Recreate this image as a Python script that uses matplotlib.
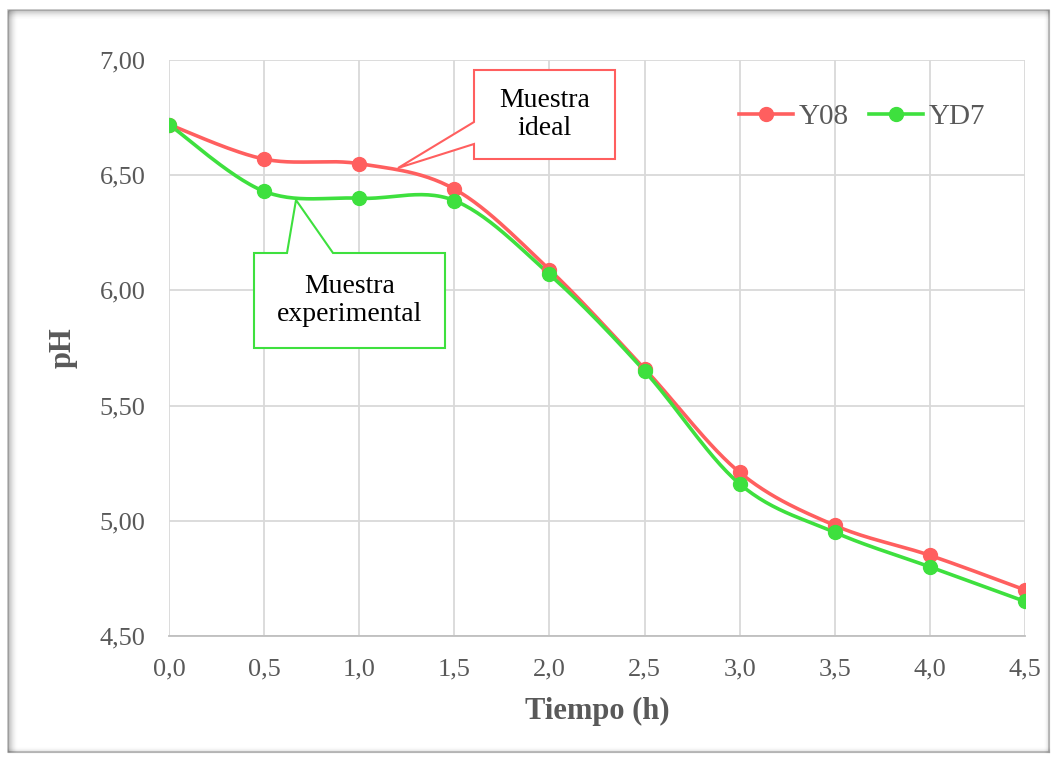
import numpy as np
import matplotlib
matplotlib.use("Agg")
import matplotlib.pyplot as plt
from matplotlib.patches import Polygon, Rectangle
from matplotlib.lines import Line2D

# ---- data ----
tiempo = [0.0, 0.5, 1.0, 1.5, 2.0, 2.5, 3.0, 3.5, 4.0, 4.5]
ph_y08 = [6.72, 6.57, 6.55, 6.44, 6.09, 5.66, 5.21, 4.98, 4.85, 4.70]
ph_yd7 = [6.72, 6.43, 6.40, 6.39, 6.07, 5.65, 5.16, 4.95, 4.80, 4.65]
series_names = ["Y08", "YD7"]
x_ticks = [0.0, 0.5, 1.0, 1.5, 2.0, 2.5, 3.0, 3.5, 4.0, 4.5]
y_ticks = [4.50, 5.00, 5.50, 6.00, 6.50, 7.00]

RED = "#FF5F5F"
GREEN = "#3EE03E"
GRAY_TXT = "#595959"
FONT = "Liberation Serif"


def smooth(x, y, n=30):
    """Excel-like smoothed line (Catmull-Rom Bezier)."""
    x = np.asarray(x, float); y = np.asarray(y, float)
    px, py = [], []
    for i in range(len(x) - 1):
        x0, y0 = (x[i - 1], y[i - 1]) if i > 0 else (x[i], y[i])
        x3, y3 = (x[i + 2], y[i + 2]) if i + 2 < len(x) else (x[i + 1], y[i + 1])
        x1, y1, x2, y2 = x[i], y[i], x[i + 1], y[i + 1]
        c1x, c1y = x1 + (x2 - x0) / 6, y1 + (y2 - y0) / 6
        c2x, c2y = x2 - (x3 - x1) / 6, y2 - (y3 - y1) / 6
        t = np.linspace(0, 1, n)
        bx = (1-t)**3*x1 + 3*(1-t)**2*t*c1x + 3*(1-t)*t**2*c2x + t**3*x2
        by = (1-t)**3*y1 + 3*(1-t)**2*t*c1y + 3*(1-t)*t**2*c2y + t**3*y2
        px.extend(bx); py.extend(by)
    return np.array(px), np.array(py)


W, H = 1055, 759
fig = plt.figure(figsize=(W / 100, H / 100), dpi=100)
fig.patch.set_facecolor("white")

# outer frame with soft inner shadow
fr = fig.add_axes([0, 0, 1, 1], zorder=-10)
fr.set_xlim(0, W); fr.set_ylim(H, 0); fr.axis("off")
x0f, y0f, x1f, y1f = 8, 10, 1049, 752
for k in range(10):
    a = 0.35 * (1 - k / 10) ** 2
    fr.plot([x0f + k, x0f + k], [y0f, y1f], color="black", alpha=a * 0.6, lw=1, solid_capstyle="butt")
    fr.plot([x0f, x1f], [y0f + k, y0f + k], color="black", alpha=a * 0.5, lw=1, solid_capstyle="butt")
for k in range(6):
    a = 0.12 * (1 - k / 6) ** 2
    fr.plot([x1f - k, x1f - k], [y0f, y1f], color="black", alpha=a, lw=1)
    fr.plot([x0f, x1f], [y1f - k, y1f - k], color="black", alpha=a, lw=1)
fr.add_patch(Rectangle((x0f, y0f), x1f - x0f, y1f - y0f, fill=False, edgecolor="#C8C8C8", lw=1.2))

# main axes
L, R, T, B = 169, 1025, 60, 636
ax = fig.add_axes([L / W, 1 - B / H, (R - L) / W, (B - T) / H])
ax.set_xlim(0, 4.5)
ax.set_ylim(4.5, 7.0)
ax.set_xticks(x_ticks)
ax.set_yticks(y_ticks)
ax.set_xticklabels([f"{v:.1f}".replace(".", ",") for v in x_ticks])
ax.set_yticklabels([f"{v:.2f}".replace(".", ",") for v in y_ticks])
ax.grid(True, color="#D9D9D9", lw=1.3)
ax.set_axisbelow(True)
for s in ["top", "right", "left"]:
    ax.spines[s].set_visible(False)
ax.spines["bottom"].set_color("#BFBFBF")
ax.spines["bottom"].set_linewidth(1.3)
ax.tick_params(length=0, labelsize=19, labelcolor=GRAY_TXT)
ax.tick_params(axis="y", pad=17)
ax.tick_params(axis="x", pad=16)
for lab in ax.get_xticklabels() + ax.get_yticklabels():
    lab.set_fontfamily(FONT)
ax.set_xlabel("Tiempo (h)", fontsize=22, fontweight="bold", color=GRAY_TXT, family=FONT, labelpad=12)
ax.set_ylabel("pH", fontsize=22, fontweight="bold", color=GRAY_TXT, family=FONT, labelpad=16)

for ys, c, name in [(ph_y08, RED, series_names[0]), (ph_yd7, GREEN, series_names[1])]:
    sx, sy = smooth(tiempo, ys)
    ax.plot(sx, sy, color=c, lw=2.6, zorder=3, solid_capstyle="round")
    ax.plot(tiempo, ys, "o", color=c, ms=10, zorder=4)

# legend
handles = [Line2D([], [], color=RED, lw=2.6, marker="o", ms=10),
           Line2D([], [], color=GREEN, lw=2.6, marker="o", ms=10)]
leg = ax.legend(handles, series_names, loc="center left", bbox_to_anchor=((739 - L) / (R - L), 1 - (117 - T) / (B - T)),
                ncol=2, frameon=False, prop={"family": FONT, "size": 21}, handlelength=1.85,
                handletextpad=0.2, columnspacing=0.7, borderaxespad=0, borderpad=0)
for t in leg.get_texts():
    t.set_color(GRAY_TXT)


def px2d(px, py):
    return ((px - L) / (R - L) * 4.5, 7.0 - (py - T) / (B - T) * 2.5)


def callout(box, tip, base_side, b1, b2, color, text):
    bx0, by0, bx1, by1 = box
    if base_side == "left":
        pts = [(bx0, by0), (bx1, by0), (bx1, by1), (bx0, by1), (bx0, b2), tip, (bx0, b1)]
    else:  # top
        pts = [(bx0, by0), (b1, by0), tip, (b2, by0), (bx1, by0), (bx1, by1), (bx0, by1)]
    dpts = [px2d(*p) for p in pts]
    ax.add_patch(Polygon(dpts, closed=True, facecolor="white", edgecolor=color, lw=1.5, zorder=5))
    cx, cy = px2d((bx0 + bx1) / 2, (by0 + by1) / 2)
    ax.text(cx, cy, text, ha="center", va="center", fontsize=20, family=FONT,
            color="black", zorder=6, linespacing=1.15)


callout((474, 70, 615, 159), (398, 168), "left", 122, 144, RED, "Muestra\nideal")
callout((254, 253, 445, 348), (296, 200), "top", 287, 333, GREEN, "Muestra\nexperimental")

fig.savefig("out.png", dpi=100)
